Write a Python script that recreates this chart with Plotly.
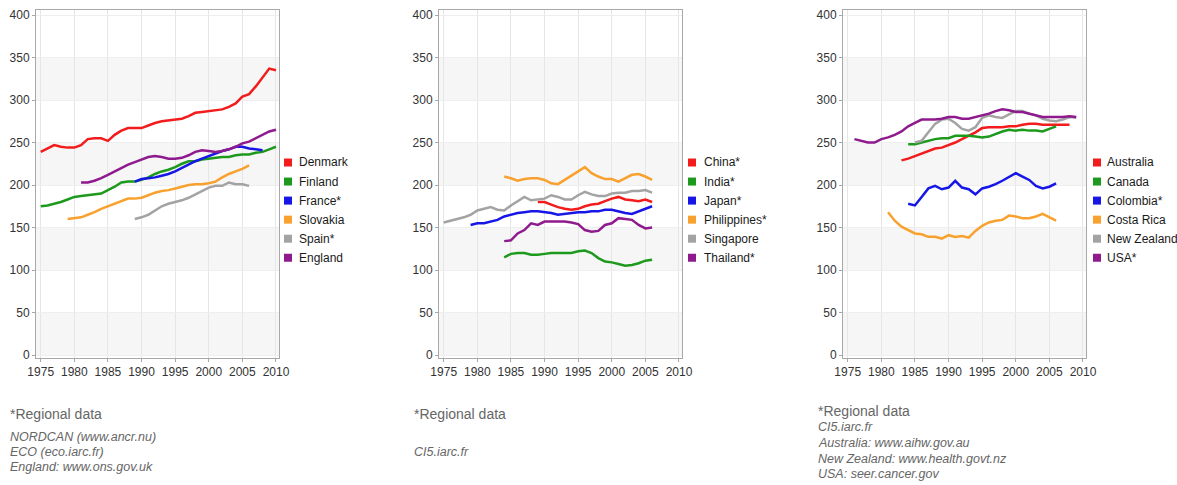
import plotly.graph_objects as go

W, H = 1177, 485

# ---------------- data ----------------
# Panel 1 : Europe
denmark_years = list(range(1975, 2011))
denmark = [239, 243, 247, 245, 244, 244, 247, 254, 255, 255, 252, 259, 264, 267, 267, 267, 270, 273,
           275, 276, 277, 278, 281, 285, 286, 287, 288, 289, 292, 296, 304, 307, 316, 327, 337, 335]
finland_years = list(range(1975, 2011))
finland = [175, 176, 178, 180, 183, 186, 187, 188, 189, 190, 194, 198, 203, 204, 204, 206, 209, 213,
           216, 218, 221, 225, 228, 228, 230, 231, 232, 233, 233, 235, 236, 236, 238, 239, 242, 245]
france_years = list(range(1989, 2009))
france = [204, 207, 208, 209, 211, 213, 216, 220, 224, 228, 231, 234, 237, 240, 242, 245, 245, 243, 242, 241]
slovakia_years = list(range(1979, 2007))
slovakia = [160, 161, 162, 165, 168, 172, 175, 178, 181, 184, 184, 185, 188, 191, 193, 194, 196, 198,
            200, 201, 201, 202, 204, 209, 213, 216, 219, 223]
spain_years = list(range(1989, 2007))
spain = [160, 162, 165, 170, 175, 178, 180, 182, 185, 189, 193, 197, 199, 199, 203, 201, 201, 199]
england_years = list(range(1981, 2011))
england = [203, 203, 205, 208, 212, 216, 220, 224, 227, 230, 233, 234, 233, 231, 231, 232, 235, 239,
           241, 240, 239, 240, 242, 245, 249, 251, 255, 259, 263, 265]

# Panel 2 : Asia
china_years = list(range(1989, 2007))
china = [180, 180, 177, 174, 172, 171, 172, 175, 177, 178, 181, 184, 186, 183, 182, 181, 183, 180]
india_years = list(range(1984, 2007))
india = [115, 119, 120, 120, 118, 118, 119, 120, 120, 120, 120, 122, 123, 120, 114, 110, 109, 107,
         105, 106, 108, 111, 112]
japan_years = list(range(1979, 2007))
japan = [153, 155, 155, 157, 159, 163, 165, 167, 168, 169, 169, 168, 167, 165, 166, 167, 168, 168,
         169, 169, 171, 171, 169, 167, 166, 169, 172, 175]
philippines_years = list(range(1984, 2007))
philippines = [210, 208, 205, 207, 208, 208, 206, 202, 201, 206, 212, 217, 221, 214, 210, 207, 207,
               204, 208, 212, 213, 210, 206]
singapore_years = list(range(1975, 2007))
singapore = [156, 158, 160, 162, 165, 170, 172, 174, 171, 170, 176, 181, 186, 182, 183, 184, 188,
             186, 183, 183, 188, 192, 189, 187, 187, 190, 191, 191, 193, 193, 194, 191]
thailand_years = list(range(1984, 2007))
thailand = [134, 135, 143, 147, 155, 153, 157, 157, 157, 157, 156, 154, 147, 145, 146, 153, 155,
            161, 160, 159, 153, 149, 150]

# Panel 3 : Americas / Oceania
australia_years = list(range(1983, 2009))
australia = [229, 231, 234, 237, 240, 243, 244, 247, 250, 254, 258, 262, 267, 268, 268, 268, 269,
             269, 271, 272, 272, 271, 271, 271, 271, 271]
canada_years = list(range(1984, 2007))
canada = [248, 248, 250, 252, 254, 255, 255, 258, 258, 258, 257, 256, 257, 260, 263, 265, 264, 265,
          264, 264, 263, 266, 269]
colombia_years = list(range(1984, 2007))
colombia = [178, 176, 186, 196, 199, 195, 197, 205, 197, 195, 189, 196, 198, 201, 205, 210, 214,
            210, 206, 199, 196, 198, 202]
costarica_years = list(range(1981, 2007))
costarica = [168, 158, 151, 147, 143, 142, 139, 139, 137, 141, 139, 140, 138, 146, 152, 156, 158,
             159, 164, 163, 161, 161, 163, 166, 162, 158]
nz_years = list(range(1985, 2010))
nz = [250, 252, 262, 272, 277, 278, 273, 266, 264, 268, 279, 282, 280, 279, 283, 287, 287, 284,
      282, 278, 276, 275, 277, 280, 279]
usa_years = list(range(1976, 2010))
usa = [254, 252, 250, 250, 254, 256, 259, 263, 269, 273, 277, 277, 277, 278, 280, 280, 278, 278,
       280, 282, 284, 287, 289, 288, 286, 286, 284, 282, 280, 280, 280, 280, 281, 280]

colors = {"red": "#f21c1c", "green": "#1d9a1d", "blue": "#1616e6", "orange": "#f9a12e",
          "gray": "#a3a3a3", "purple": "#8e1a8e"}

panels = [
    [("Denmark", denmark_years, denmark, "red"), ("Finland", finland_years, finland, "green"),
     ("France*", france_years, france, "blue"), ("Slovakia", slovakia_years, slovakia, "orange"),
     ("Spain*", spain_years, spain, "gray"), ("England", england_years, england, "purple")],
    [("China*", china_years, china, "red"), ("India*", india_years, india, "green"),
     ("Japan*", japan_years, japan, "blue"), ("Philippines*", philippines_years, philippines, "orange"),
     ("Singapore", singapore_years, singapore, "gray"), ("Thailand*", thailand_years, thailand, "purple")],
    [("Australia", australia_years, australia, "red"), ("Canada", canada_years, canada, "green"),
     ("Colombia*", colombia_years, colombia, "blue"), ("Costa Rica", costarica_years, costarica, "orange"),
     ("New Zealand", nz_years, nz, "gray"), ("USA*", usa_years, usa, "purple")],
]

footnotes = [
    ["NORDCAN (www.ancr.nu)", "ECO (eco.iarc.fr)", "England: www.ons.gov.uk"],
    ["", "CI5.iarc.fr"],
    ["CI5.iarc.fr", "Australia: www.aihw.gov.au", "New Zealand: www.health.govt.nz",
     "USA: seer.cancer.gov"],
]

x_ticks = [1975, 1980, 1985, 1990, 1995, 2000, 2005, 2010]
y_ticks = [0, 50, 100, 150, 200, 250, 300, 350, 400]

# ---------------- layout geometry (pixels) ----------------
plot_left = [36, 439, 843]
plot_w = 243
plot_top, plot_bot = 10, 358
legend_sq_x = [288, 692, 1097]
legend_txt_x = [297, 702, 1105]
legend_y0, legend_dy = 162.5, 19.05
foot_x = [8, 412, 816]


def px(x):
    return x / W


def py(y):
    return 1 - y / H


fig = go.Figure()
shapes = []
annotations = []

for i, series in enumerate(panels):
    xa = "x" if i == 0 else f"x{i+1}"
    ya = "y" if i == 0 else f"y{i+1}"
    for name, xs, ys, c in series:
        fig.add_trace(go.Scatter(x=xs, y=ys, mode="lines", name=name, showlegend=False,
                                 line=dict(color=colors[c], width=2.5, shape="linear"),
                                 xaxis=xa, yaxis=ya))
    # alternating bands
    for k in range(0, len(y_ticks) - 1, 2):
        shapes.append(dict(type="rect", xref=f"{xa} domain", yref=ya, x0=0, x1=1,
                           y0=y_ticks[k], y1=y_ticks[k + 1], fillcolor="#f6f6f6",
                           line=dict(width=0), layer="below"))
    dom_x = [px(plot_left[i]), px(plot_left[i] + plot_w)]
    dom_y = [py(plot_bot), py(plot_top)]
    axis_common = dict(showline=True, linecolor="#a8a8a8", linewidth=1, mirror=True,
                       ticks="outside", ticklen=3, tickcolor="#a8a8a8", automargin=False,
                       tickfont=dict(family="Liberation Sans, Arial", size=12, color="#333333"),
                       zeroline=False)
    fig.layout[("xaxis" if i == 0 else f"xaxis{i+1}")] = dict(
        domain=dom_x, anchor=ya, range=[1974.3, 2010.45], tickvals=x_ticks,
        showgrid=True, gridcolor="#e6e6e6", gridwidth=1, **axis_common)
    fig.layout[("yaxis" if i == 0 else f"yaxis{i+1}")] = dict(
        domain=dom_y, anchor=xa, range=[-3.5, 405.9], tickvals=y_ticks,
        showgrid=True, gridcolor="#eeeeee", gridwidth=1, **axis_common)

    # legend (squares + labels)
    for j, (name, xs, ys, c) in enumerate(series):
        cy = legend_y0 + j * legend_dy
        sx = legend_sq_x[i]
        shapes.append(dict(type="rect", xref="paper", yref="paper",
                           x0=px(sx - 4), x1=px(sx + 4), y0=py(cy + 4), y1=py(cy - 4),
                           fillcolor=colors[c], line=dict(width=0)))
        annotations.append(dict(xref="paper", yref="paper", x=px(legend_txt_x[i]), y=py(cy),
                                xanchor="left", yanchor="middle", showarrow=False, text=name,
                                font=dict(family="Liberation Sans, Arial", size=12, color="#1a1a1a")))

    # footnotes
    annotations.append(dict(xref="paper", yref="paper", x=px(foot_x[i]),
                            y=py(414 if i < 2 else 411), xanchor="left", yanchor="middle",
                            showarrow=False, text="*Regional data",
                            font=dict(family="Liberation Sans, Arial", size=14, color="#666666")))
    lines = footnotes[i]
    if i == 2:
        ys_foot = [427, 443, 459, 474]
    else:
        ys_foot = [437, 452, 467]
    for k, t in enumerate(lines):
        if not t:
            continue
        annotations.append(dict(xref="paper", yref="paper", x=px(foot_x[i]), y=py(ys_foot[k]),
                                xanchor="left", yanchor="middle", showarrow=False,
                                text=f"<i>{t}</i>",
                                font=dict(family="Liberation Sans, Arial", size=12.5, color="#666666")))

fig.update_layout(width=W, height=H, margin=dict(l=0, r=0, t=0, b=0, autoexpand=False),
                  paper_bgcolor="white", plot_bgcolor="white", showlegend=False,
                  shapes=shapes, annotations=annotations)

fig.write_html("out.html", config={"displayModeBar": False},
               post_script="document.body.style.margin='0';")
